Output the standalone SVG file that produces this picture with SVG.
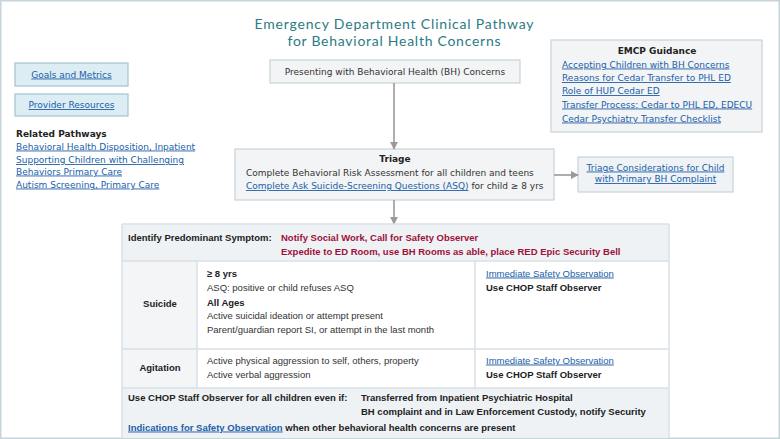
<svg xmlns="http://www.w3.org/2000/svg" width="780" height="439" viewBox="0 0 780 439">
<style>
.v{font-family:"DejaVu Sans","Verdana",sans-serif;font-size:9px;fill:#333}
.vb{font-family:"DejaVu Sans","Verdana",sans-serif;font-size:9px;fill:#222;font-weight:bold}
.a{font-family:"Liberation Sans",Arial,sans-serif;font-size:9.5px;fill:#333}
.ab{font-family:"Liberation Sans",Arial,sans-serif;font-size:9.5px;fill:#222;font-weight:bold}
.red{fill:#9e1039}
.lk{fill:#2160a8;text-decoration:underline}
.ttl{font-family:Lato,"Open Sans",sans-serif;font-size:14px;fill:#2c7b82}
.box{fill:#f2f4f6;stroke:#c8d2d8;stroke-width:1.2}
.blue{fill:#dcedf4;stroke:#a2c4d1;stroke-width:1.2}
.conn{stroke:#9a9a9a;stroke-width:1.6;fill:none}
.grid{stroke:#d9e1e6;stroke-width:1.5}
</style>
<defs>
<marker id="ah" viewBox="0 0 10 10" refX="9" refY="5" markerWidth="5" markerHeight="5" orient="auto" markerUnits="strokeWidth">
<path d="M0,0 L10,5 L0,10 z" fill="#9a9a9a"/>
</marker>
</defs>
<rect x="0" y="0" width="780" height="439" fill="#ffffff"/>
<rect x="0.75" y="0.75" width="778.5" height="437.5" fill="none" stroke="#c7d4da" stroke-width="1.5"/>

<g id="title">
<text class="ttl" x="394" y="29" text-anchor="middle" textLength="279">Emergency Department Clinical Pathway</text>
<text class="ttl" x="394" y="46" text-anchor="middle" textLength="213">for Behavioral Health Concerns</text>
</g>

<g id="goals">
<rect class="blue" x="15" y="63" width="113" height="23"/>
<text class="v lk" x="71.5" y="77.5" text-anchor="middle">Goals and Metrics</text>
</g>
<g id="provider">
<rect class="blue" x="15" y="94" width="113" height="22"/>
<text class="v lk" x="71.5" y="108" text-anchor="middle">Provider Resources</text>
</g>
<g id="related">
<text class="vb" x="16" y="136.5">Related Pathways</text>
<text class="v lk" x="16" y="149.5">Behavioral Health Disposition, Inpatient</text>
<text class="v lk" x="16" y="163">Supporting Children with Challenging</text>
<text class="v lk" x="16" y="174.5">Behaviors Primary Care</text>
<text class="v lk" x="16" y="187.5">Autism Screening, Primary Care</text>
</g>

<g id="presenting">
<rect class="box" x="270" y="60" width="250" height="23"/>
<text class="v" x="395" y="74.5" text-anchor="middle">Presenting with Behavioral Health (BH) Concerns</text>
</g>

<g id="emcp">
<rect class="box" x="551" y="40" width="211" height="92"/>
<text class="vb" x="657" y="54" text-anchor="middle">EMCP Guidance</text>
<text class="v lk" x="562" y="67.5">Accepting Children with BH Concerns</text>
<text class="v lk" x="562" y="81">Reasons for Cedar Transfer to PHL ED</text>
<text class="v lk" x="562" y="94">Role of HUP Cedar ED</text>
<text class="v lk" x="562" y="107.5">Transfer Process: Cedar to PHL ED, EDECU</text>
<text class="v lk" x="562" y="121.5">Cedar Psychiatry Transfer Checklist</text>
</g>

<g id="triage">
<rect class="box" x="235" y="149" width="319" height="51"/>
<text class="vb" x="395" y="162" text-anchor="middle">Triage</text>
<text class="v" x="246" y="176">Complete Behavioral Risk Assessment for all children and teens</text>
<text class="v" x="246" y="189"><tspan class="lk">Complete Ask Suicide-Screening Questions (ASQ)</tspan> for child ≥ 8 yrs</text>
</g>

<g id="triage-considerations">
<rect class="box" x="578" y="157" width="155" height="35" style="fill:#eff3f6"/>
<text class="v lk" x="655.5" y="170.5" text-anchor="middle">Triage Considerations for Child</text>
<text class="v lk" x="655.5" y="182" text-anchor="middle">with Primary BH Complaint</text>
</g>

<g id="connectors">
<line class="conn" x1="394" y1="83" x2="394" y2="149" marker-end="url(#ah)"/>
<line class="conn" x1="394" y1="200" x2="394" y2="224" marker-end="url(#ah)"/>
<line class="conn" x1="554" y1="175" x2="578" y2="175" marker-end="url(#ah)"/>
</g>

<g id="symptom-table">
<rect x="122" y="224" width="547" height="214" fill="#ffffff"/>
<rect x="122" y="224" width="547" height="37" fill="#eef2f5"/>
<rect x="122" y="261" width="75" height="127" fill="#f3f5f7"/>
<rect x="122" y="388" width="547" height="50" fill="#eef2f5"/>
<line class="grid" x1="122" y1="224" x2="669" y2="224"/>
<line class="grid" x1="122" y1="261" x2="669" y2="261"/>
<line class="grid" x1="122" y1="349" x2="669" y2="349"/>
<line class="grid" x1="122" y1="388" x2="669" y2="388"/>
<line class="grid" x1="122" y1="224" x2="122" y2="438"/>
<line class="grid" x1="669" y1="224" x2="669" y2="438"/>
<line class="grid" x1="197" y1="261" x2="197" y2="388"/>
<line class="grid" x1="475" y1="261" x2="475" y2="388"/>

<text class="ab" x="128" y="240.5">Identify Predominant Symptom:</text>
<text class="ab red" x="281" y="240.5">Notify Social Work, Call for Safety Observer</text>
<text class="ab red" x="281" y="255">Expedite to ED Room, use BH Rooms as able, place RED Epic Security Bell</text>

<text class="ab" x="160" y="306.5" text-anchor="middle">Suicide</text>
<text class="ab" x="207" y="276.5">≥ 8 yrs</text>
<text class="a" x="207" y="290.5">ASQ: positive or child refuses ASQ</text>
<text class="ab" x="207" y="305.5">All Ages</text>
<text class="a" x="207" y="318.5">Active suicidal ideation or attempt present</text>
<text class="a" x="207" y="332.5">Parent/guardian report SI, or attempt in the last month</text>
<text class="a lk" x="486" y="276.5">Immediate Safety Observation</text>
<text class="ab" x="486" y="290.5">Use CHOP Staff Observer</text>

<text class="ab" x="160" y="370.5" text-anchor="middle">Agitation</text>
<text class="a" x="207" y="363.5">Active physical aggression to self, others, property</text>
<text class="a" x="207" y="377.5">Active verbal aggression</text>
<text class="a lk" x="486" y="363.5">Immediate Safety Observation</text>
<text class="ab" x="486" y="377.5">Use CHOP Staff Observer</text>

<text class="ab" x="128" y="400.5">Use CHOP Staff Observer for all children even if:</text>
<text class="ab" x="361" y="400.5">Transferred from Inpatient Psychiatric Hospital</text>
<text class="ab" x="361" y="414.5">BH complaint and in Law Enforcement Custody, notify Security</text>
<text class="ab" x="128" y="430.5"><tspan class="lk">Indications for Safety Observation</tspan> when other behavioral health concerns are present</text>
</g>
</svg>
